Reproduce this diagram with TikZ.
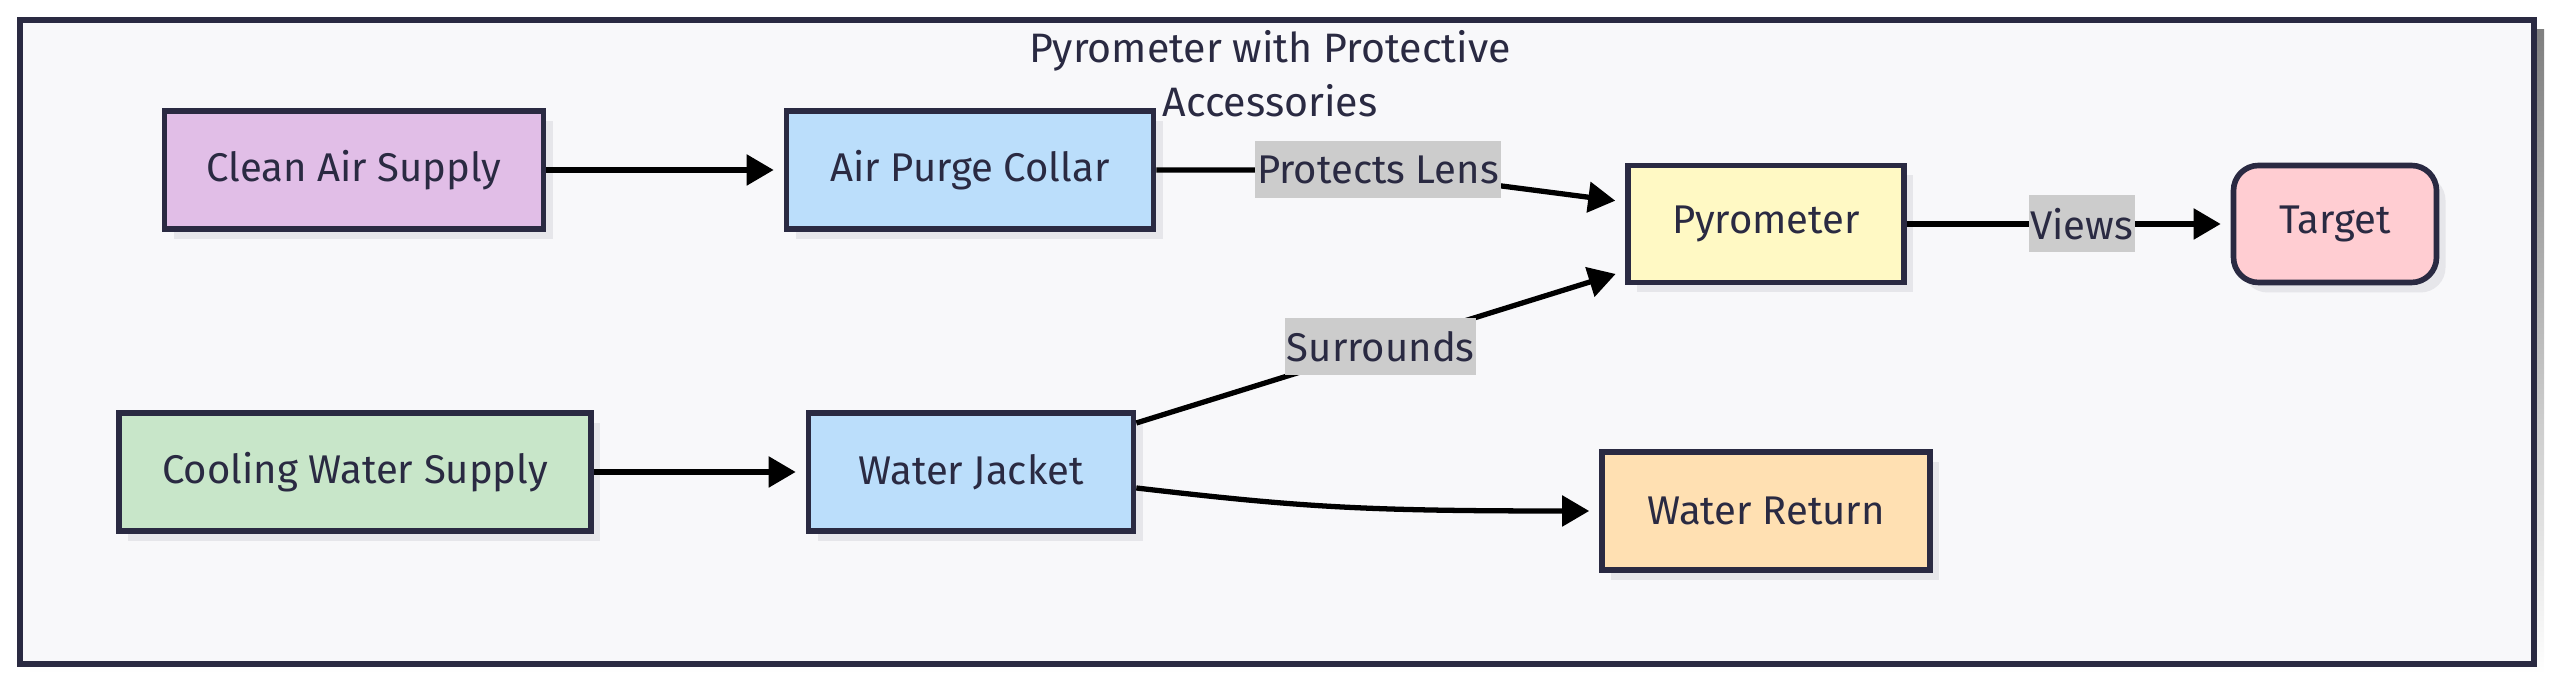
\documentclass[tikz,border=0pt]{standalone}
\usepackage{fontspec}
\setmainfont{Fira Sans}
\usetikzlibrary{arrows.meta,shadows}

\definecolor{inkline}{HTML}{2A2A42}
\definecolor{framebg}{HTML}{F8F8FA}
\definecolor{shade}{HTML}{E6E6EA}
\definecolor{airfill}{HTML}{E1BEE7}
\definecolor{bluefill}{HTML}{BBDEFB}
\definecolor{pyrofill}{HTML}{FFF9C4}
\definecolor{targetfill}{HTML}{FFCDD2}
\definecolor{coolfill}{HTML}{C8E6C9}
\definecolor{returnfill}{HTML}{FFE0B2}
\definecolor{lblfill}{HTML}{CCCCCC}

\begin{document}
\begin{tikzpicture}[
  font=\fontsize{11.4}{13.5}\selectfont,
  box/.style={draw=inkline, line width=1.6pt, text=inkline, minimum height=1.18cm,
    inner sep=0pt, drop shadow={shadow xshift=0.09cm, shadow yshift=-0.1cm, fill=shade, opacity=1}},
  lbl/.style={fill=lblfill, text=inkline, inner sep=0.5pt, minimum height=0.57cm},
  arr/.style={line width=1.5pt, -{Triangle[length=0.27cm,width=0.3cm]}, shorten >=0.1cm}
]
  \useasboundingbox (0,0) rectangle (25.6,6.85);
  % outer frame
  \fill[shade] (0.30,0.11) rectangle (25.44,6.55);
  \draw[fill=framebg, draw=inkline, line width=1.6pt] (0.20,0.21) rectangle (25.34,6.65);
  \node[align=center, text=inkline, font=\fontsize{11.7}{15.3}\selectfont] (title) at (12.70,6.11)
    {Pyrometer with Protective\\Accessories};

  \node[box, fill=airfill, minimum width=3.79cm] (clean) at (3.54,5.15) {Clean Air Supply};
  \node[box, fill=bluefill, minimum width=3.67cm] (purge) at (9.70,5.15) {Air Purge Collar};
  \node[box, fill=pyrofill, minimum width=2.76cm, minimum height=1.17cm] (pyro) at (17.66,4.61) {Pyrometer};
  \node[box, fill=targetfill, minimum width=2.03cm, minimum height=1.17cm, rounded corners=0.25cm] (target) at (23.35,4.61) {Target};
  \node[box, fill=coolfill, minimum width=4.72cm] (cooling) at (3.55,2.13) {Cooling Water Supply};
  \node[box, fill=bluefill, minimum width=3.25cm] (jacket) at (9.71,2.13) {Water Jacket};
  \node[box, fill=returnfill, minimum width=3.28cm] (return) at (17.66,1.74) {Water Return};

  \coordinate (lensat) at (13.78,5.15);
  \draw[arr] (clean) -- (purge);
  \draw[arr] (purge.east) -- (lensat) node[lbl] (lens) {Protects Lens} -- ([yshift=0.22cm]pyro.west);
  \draw[arr] (pyro) -- node[lbl, pos=0.54] (views) {Views} (target);
  \draw[arr] (cooling) -- (jacket);
  \draw[arr] ([yshift=0.49cm]jacket.east) -- node[lbl] (surr) {Surrounds} ([yshift=-0.47cm]pyro.west);
  \draw[arr] ([yshift=-0.16cm]jacket.east) .. controls (13.0,1.78) and (13.6,1.74) .. (return.west);
\end{tikzpicture}
\end{document}
